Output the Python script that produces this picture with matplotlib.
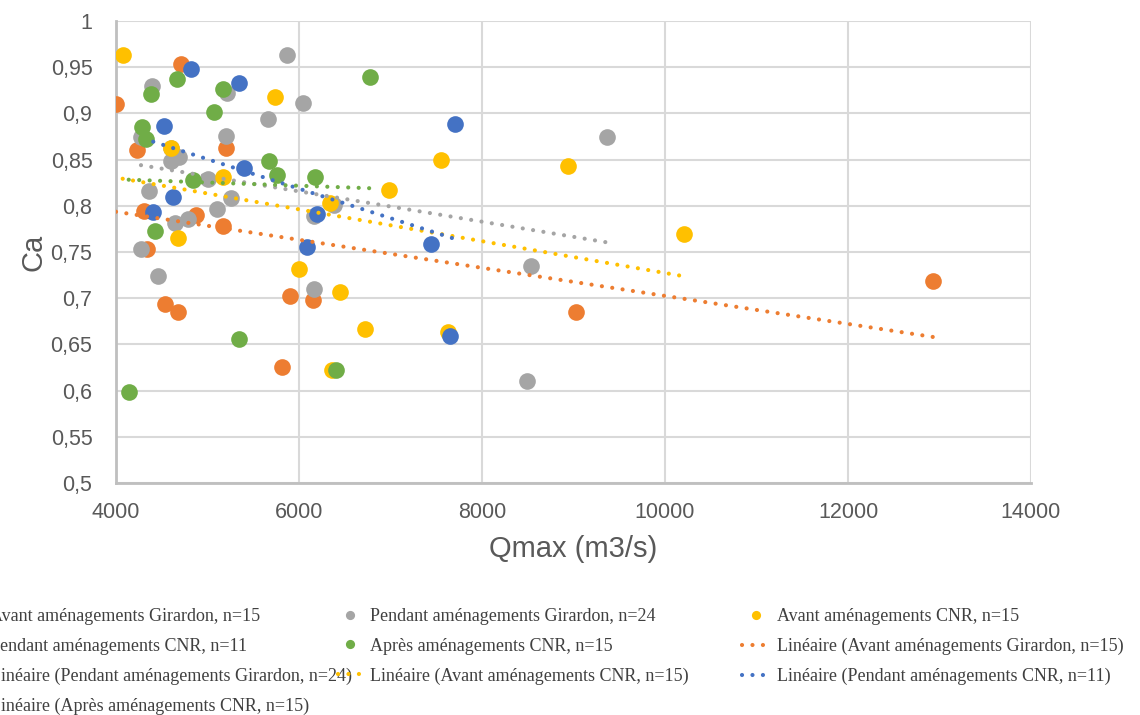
import numpy as np
import matplotlib
matplotlib.use('Agg')
import matplotlib.pyplot as plt

# data (Qmax in m3/s, Ca)
avant_gir_x = [4000, 4710, 4229, 5201, 4309, 4873, 5165, 4338, 4535, 4680,
               5900, 6154, 5818, 9022, 12927]
avant_gir_y = [0.910, 0.954, 0.860, 0.863, 0.794, 0.790, 0.778, 0.753, 0.694,
               0.685, 0.702, 0.698, 0.626, 0.685, 0.719]

pendant_gir_x = [5867, 4393, 5208, 6049, 5656, 4273, 5201, 4600, 4688, 5001,
                 4364, 5255, 5103, 4789, 4647, 4273, 4462, 6380, 6165, 6165,
                 9368, 8531, 8495, 4600]
pendant_gir_y = [0.963, 0.930, 0.922, 0.911, 0.894, 0.874, 0.875, 0.849, 0.853,
                 0.829, 0.816, 0.808, 0.797, 0.786, 0.781, 0.753, 0.724, 0.801,
                 0.789, 0.710, 0.874, 0.735, 0.610, 0.863]

avant_cnr_x = [4073, 5736, 4600, 5165, 4680, 6984, 6339, 6001, 6449, 6718,
               6366, 7628, 7548, 8938, 10212]
avant_cnr_y = [0.963, 0.918, 0.863, 0.831, 0.765, 0.817, 0.803, 0.732, 0.707,
               0.667, 0.622, 0.663, 0.850, 0.843, 0.770]

pendant_cnr_x = [4819, 5343, 4524, 5394, 4619, 4407, 6194, 6085, 7439, 7650, 7704]
pendant_cnr_y = [0.948, 0.933, 0.886, 0.841, 0.809, 0.793, 0.791, 0.755, 0.759,
                 0.659, 0.888]

apres_cnr_x = [4666, 4382, 5168, 5070, 4284, 4328, 5667, 5765, 4837, 4426,
               6176, 6776, 5340, 6402, 4139]
apres_cnr_y = [0.937, 0.921, 0.926, 0.901, 0.885, 0.872, 0.848, 0.833, 0.828,
               0.773, 0.831, 0.939, 0.656, 0.622, 0.598]

names = ['Avant aménagements Girardon, n=15',
         'Pendant aménagements Girardon, n=24',
         'Avant aménagements CNR, n=15',
         'Pendant aménagements CNR, n=11',
         'Après aménagements CNR, n=15']
colors = ['#ED7D31', '#A5A5A5', '#FFC000', '#4472C4', '#70AD47']
series = [(avant_gir_x, avant_gir_y), (pendant_gir_x, pendant_gir_y),
          (avant_cnr_x, avant_cnr_y), (pendant_cnr_x, pendant_cnr_y),
          (apres_cnr_x, apres_cnr_y)]

W, H = 1140, 715
fig = plt.figure(figsize=(W / 100, H / 100), dpi=100)
ax = fig.add_axes([116 / W, 1 - 483 / H, (1031 - 116) / W, (483 - 21) / H])

pts, trends = [], []
for (x, y), c, n in zip(series, colors, names):
    h, = ax.plot(x, y, 'o', ms=12, color=c, mec='none', zorder=3, label=n)
    pts.append(h)

# linear trendlines (least squares), dotted like Excel's
dots = (0.01, 2.5)
for (x, y), c, n in zip(series, colors, names):
    x = np.array(x, float)
    a, b = np.polyfit(x, y, 1)
    xx = np.array([x.min(), x.max()])
    h, = ax.plot(xx, a * xx + b, color=c, lw=3, dashes=dots,
                 dash_capstyle='round', zorder=4, label='Linéaire (' + n + ')')
    trends.append(h)

ax.set_xlim(4000, 14000)
ax.set_ylim(0.5, 1.0)
xt = np.arange(4000, 14001, 2000)
ax.set_xticks(xt)
ax.set_xticklabels([str(v) for v in xt])
yt = np.round(np.arange(0.5, 1.0001, 0.05), 2)
ax.set_yticks(yt)
ax.set_yticklabels([f'{v:g}'.replace('.', ',') for v in yt])

ax.grid(True, color='#D9D9D9', lw=1.5)
ax.set_axisbelow(True)
for s in ['top', 'right']:
    ax.spines[s].set_visible(False)
for s in ['left', 'bottom']:
    ax.spines[s].set_color('#BFBFBF')
    ax.spines[s].set_linewidth(2)
ax.tick_params(length=0, labelsize=15.5, labelcolor='#595959')
ax.tick_params(axis='y', pad=17)
ax.tick_params(axis='x', pad=14)
for lab in ax.get_xticklabels() + ax.get_yticklabels():
    lab.set_family('Liberation Sans')

ax.set_xlabel('Qmax (m3/s)', fontsize=21, color='#595959',
              family='Liberation Sans', labelpad=8)
ax.set_ylabel('Ca', fontsize=21, color='#595959',
              family='Liberation Sans', labelpad=2)

# legend, three columns placed by hand (row-major like the original)
cols = [[pts[0], pts[3], trends[1], trends[4]],
        [pts[1], pts[4], trends[2]],
        [pts[2], trends[0], trends[3]]]
lefts = [-45, 338, 742]
hlens = [1.5, 1.3, 1.5]
for hs, x0, hl in zip(cols, lefts, hlens):
    leg = fig.legend(handles=hs, labels=[h.get_label() for h in hs],
                     loc='upper left', bbox_to_anchor=(x0 / W, 1 - 608 / H),
                     frameon=False, borderpad=0, borderaxespad=0,
                     handlelength=hl, handletextpad=0.45, labelspacing=0.7,
                     markerscale=0.55,
                     prop={'family': 'Liberation Serif', 'size': 13})
    for t in leg.get_texts():
        t.set_color('#404040')

fig.savefig('out.png', dpi=100)
